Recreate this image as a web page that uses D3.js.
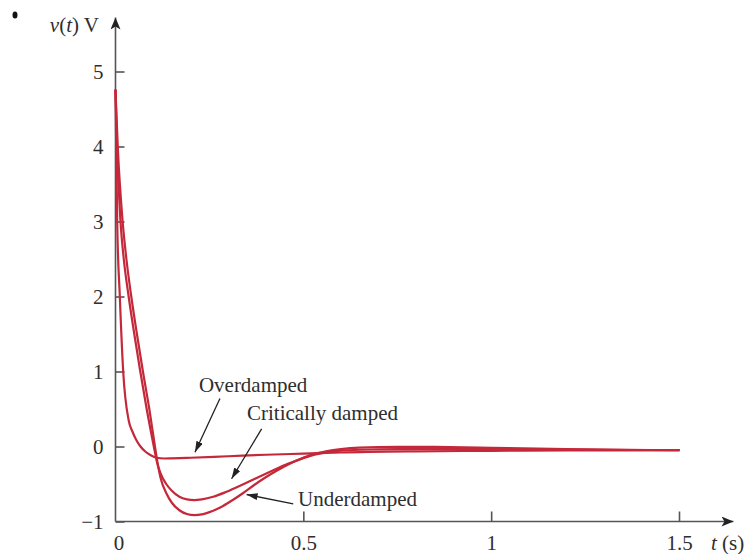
<!DOCTYPE html>
<html>
<head>
<meta charset="utf-8">
<script src="https://cdn.jsdelivr.net/npm/d3@7"></script>
<style>
  html, body { margin: 0; padding: 0; background: #fff; }
  svg { display: block; }
  text { font-family: "Liberation Serif", "DejaVu Serif", serif; fill: #2e2e2e; }
</style>
</head>
<body>
<svg id="chart" width="747" height="554"></svg>
<script>
// ---- data ----
const xTicks = [0, 0.5, 1, 1.5];
const yTicks = [-1, 0, 1, 2, 3, 4, 5];

const tOver = [0, 0.0045, 0.0115, 0.0205, 0.035, 0.045, 0.055, 0.0665, 0.08, 0.095, 0.11, 0.13, 0.15, 0.2, 0.3, 0.4, 0.5, 0.6, 0.8, 1.0, 1.2, 1.5];
const vOver = [4.75, 3.0, 2.0, 1.0, 0.35, 0.2, 0.09, 0.0, -0.07, -0.12, -0.15, -0.16, -0.158, -0.15, -0.13, -0.11, -0.095, -0.08, -0.065, -0.058, -0.053, -0.05];

const tCrit = [0, 0.004, 0.0133, 0.022, 0.035, 0.05, 0.066, 0.083, 0.102, 0.11, 0.12, 0.135, 0.15, 0.17, 0.19, 0.21, 0.23, 0.26, 0.29, 0.32, 0.35, 0.38, 0.41, 0.44, 0.47, 0.5, 0.53, 0.56, 0.6, 0.7, 0.8, 1.0, 1.2, 1.5];
const vCrit = [4.75, 4.0, 3.0, 2.5, 2.0, 1.5, 1.0, 0.5, 0.0, -0.2, -0.36, -0.5, -0.59, -0.67, -0.705, -0.715, -0.705, -0.67, -0.615, -0.55, -0.48, -0.41, -0.34, -0.27, -0.21, -0.155, -0.11, -0.08, -0.055, -0.038, -0.032, -0.035, -0.042, -0.05];

const tUnder = [0, 0.006, 0.019, 0.029, 0.042, 0.057, 0.073, 0.09, 0.105, 0.113, 0.12, 0.135, 0.15, 0.17, 0.19, 0.21, 0.23, 0.25, 0.28, 0.31, 0.34, 0.37, 0.4, 0.43, 0.46, 0.49, 0.52, 0.56, 0.6, 0.65, 0.75, 0.85, 1.0, 1.2, 1.5];
const vUnder = [4.75, 4.0, 3.0, 2.5, 2.0, 1.5, 1.0, 0.5, 0.0, -0.25, -0.42, -0.62, -0.75, -0.85, -0.9, -0.915, -0.905, -0.875, -0.81, -0.72, -0.62, -0.51, -0.41, -0.32, -0.24, -0.17, -0.11, -0.065, -0.035, -0.015, -0.004, -0.006, -0.018, -0.035, -0.05];

const labels = ["Overdamped", "Critically damped", "Underdamped"];
const labelT = [0.222, 0.350, 0.486];
const labelV = [0.733, 0.347, -0.787];
const arrowFromT = [0.278, 0.389, 0.473];
const arrowFromV = [0.64, 0.236, -0.764];
const arrowToT = [0.2116, 0.309, 0.349];
const arrowToV = [-0.076, -0.43, -0.64];

// ---- drawing ----
const svg = d3.select("#chart");
const x = d3.scaleLinear().domain([0, 1.5]).range([115.5, 679]);
const y = d3.scaleLinear().domain([-1, 5]).range([521.5, 71.5]);

const axisColor = "#555";
const curveColor = "#c4283a";

// markers
const defs = svg.append("defs");
defs.append("marker").attr("id", "axarrow").attr("viewBox", "0 0 12 10")
  .attr("refX", 12).attr("refY", 5).attr("markerWidth", 12).attr("markerHeight", 10)
  .attr("markerUnits", "userSpaceOnUse").attr("orient", "auto")
  .append("path").attr("d", "M0,0 L12,5 L0,10 L3,5 Z").attr("fill", "#222");
defs.append("marker").attr("id", "annarrow").attr("viewBox", "0 0 11 7")
  .attr("refX", 11).attr("refY", 3.5).attr("markerWidth", 11).attr("markerHeight", 7)
  .attr("markerUnits", "userSpaceOnUse").attr("orient", "auto")
  .append("path").attr("d", "M0,0 L11,3.5 L0,7 Z").attr("fill", "#222");

// stray dot in the reference corner
svg.append("ellipse").attr("cx", 15).attr("cy", 15).attr("rx", 2.5).attr("ry", 3.5).attr("fill", "#111");

// axis lines with arrows
const xAxisEnd = 1.645, yAxisEnd = 5.72;
svg.append("line").attr("x1", x(0)).attr("y1", y(-1)).attr("x2", x(xAxisEnd)).attr("y2", y(-1))
  .attr("stroke", axisColor).attr("stroke-width", 1.6).attr("marker-end", "url(#axarrow)");
svg.append("line").attr("x1", x(0)).attr("y1", y(-1)).attr("x2", x(0)).attr("y2", y(yAxisEnd))
  .attr("stroke", axisColor).attr("stroke-width", 1.6).attr("marker-end", "url(#axarrow)");

// y axis ticks & labels
const yAxis = d3.axisLeft(y).tickValues(yTicks).tickSizeInner(-9).tickSizeOuter(0).tickPadding(12)
  .tickFormat(d3.format("d"));
const gy = svg.append("g").attr("transform", `translate(${x(0)},0)`).call(yAxis);
gy.select(".domain").remove();
gy.selectAll(".tick line").attr("stroke", axisColor).attr("stroke-width", 1.6);
gy.selectAll(".tick text").attr("font-size", 21).attr("font-family", "Liberation Serif, serif").attr("fill", "#2e2e2e");

// x axis ticks & labels
const xAxis = d3.axisBottom(x).tickValues(xTicks).tickSizeInner(-10).tickSizeOuter(0).tickPadding(14)
  .tickFormat(d => d3.format("")(d));
const gx = svg.append("g").attr("transform", `translate(0,${y(-1)})`).call(xAxis);
gx.select(".domain").remove();
gx.selectAll(".tick line").attr("stroke", axisColor).attr("stroke-width", 1.6)
  .filter(d => d === 0).remove();
gx.selectAll(".tick text").attr("font-size", 21).attr("font-family", "Liberation Serif, serif").attr("fill", "#2e2e2e");
gx.selectAll(".tick").filter(d => d === 0).select("text").attr("dx", 3);

// axis titles
const yt = svg.append("text").attr("x", 99).attr("y", 32).attr("text-anchor", "end").attr("font-size", 21);
yt.append("tspan").attr("font-style", "italic").text("v");
yt.append("tspan").text("(");
yt.append("tspan").attr("font-style", "italic").text("t");
yt.append("tspan").text(") V");

const xt = svg.append("text").attr("x", 711).attr("y", 550).attr("font-size", 21);
xt.append("tspan").attr("font-style", "italic").text("t");
xt.append("tspan").text(" (s)");

// curves
const line = d3.line().x(d => x(d[0])).y(d => y(d[1])).curve(d3.curveMonotoneX);
const series = [
  d3.zip(tOver, vOver),
  d3.zip(tCrit, vCrit),
  d3.zip(tUnder, vUnder)
];
svg.append("g").selectAll("path").data(series).join("path")
  .attr("d", line).attr("fill", "none").attr("stroke", curveColor)
  .attr("stroke-width", 2.2).attr("stroke-linejoin", "round").attr("stroke-linecap", "round");

// annotations
const ann = svg.append("g");
labels.forEach((lab, i) => {
  ann.append("line")
    .attr("x1", x(arrowFromT[i])).attr("y1", y(arrowFromV[i]))
    .attr("x2", x(arrowToT[i])).attr("y2", y(arrowToV[i]))
    .attr("stroke", "#222").attr("stroke-width", 1.3).attr("marker-end", "url(#annarrow)");
  ann.append("text").attr("x", x(labelT[i])).attr("y", y(labelV[i]))
    .attr("font-size", 21).text(lab);
});
</script>
</body>
</html>
